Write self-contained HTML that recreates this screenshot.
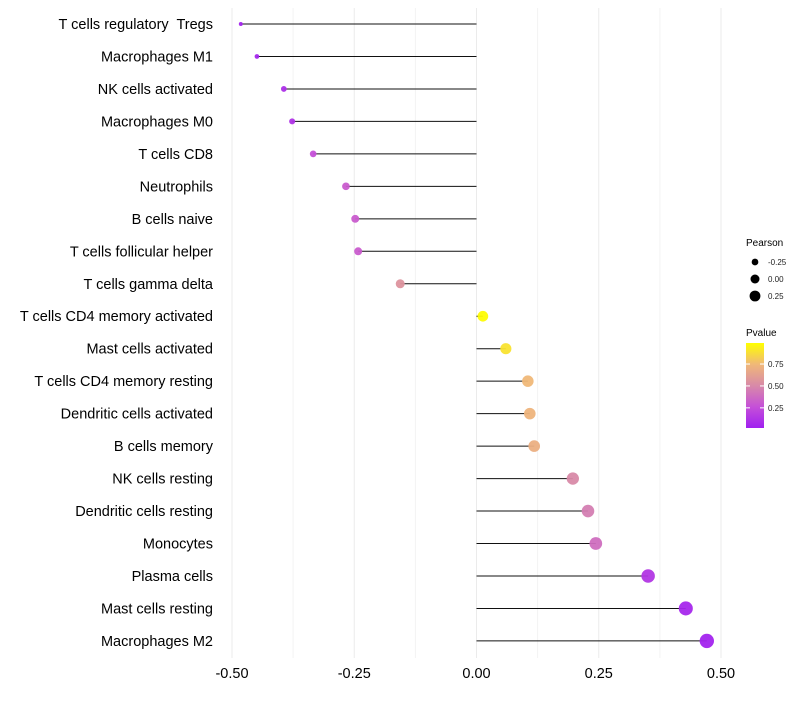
<!DOCTYPE html>
<html><head><meta charset="utf-8"><style>
body{margin:0;background:#fff;font-family:"Liberation Sans",sans-serif}
text{white-space:pre}
</style></head><body>
<svg id="chart" width="800" height="700" xmlns="http://www.w3.org/2000/svg" font-family="Liberation Sans, sans-serif"></svg>
<script>
const categories=["T cells regulatory  Tregs","Macrophages M1","NK cells activated","Macrophages M0","T cells CD8","Neutrophils","B cells naive","T cells follicular helper","T cells gamma delta","T cells CD4 memory activated","Mast cells activated","T cells CD4 memory resting","Dendritic cells activated","B cells memory","NK cells resting","Dendritic cells resting","Monocytes","Plasma cells","Mast cells resting","Macrophages M2"];
const pearson=[-0.482,-0.449,-0.394,-0.377,-0.334,-0.267,-0.248,-0.242,-0.156,0.013,0.060,0.105,0.109,0.118,0.197,0.228,0.244,0.351,0.428,0.471];
const pvalue=[0.02,0.03,0.08,0.1,0.25,0.3,0.3,0.3,0.55,0.99,0.9,0.75,0.73,0.7,0.5,0.45,0.38,0.12,0.04,0.02];
const xTicks=[-0.5,-0.25,0,0.25,0.5];
const xTickLabels=["-0.50","-0.25","0.00","0.25","0.50"];
const sizeLegend=[-0.25,0,0.25];
const sizeLegendLabels=["-0.25","0.00","0.25"];
const colorTicks=[0.25,0.5,0.75];

const svg=document.getElementById('chart');
const NS="http://www.w3.org/2000/svg";
function mk(t,a,p){const e=document.createElementNS(NS,t);for(const k in a)e.setAttribute(k,a[k]);(p||svg).appendChild(e);return e;}
const x=v=>476.5+v*489;
const y=i=>24+i*32.47;
const r=v=>Math.sqrt(Math.max(1.5,28+50*v));
const stops=[[0,[160,32,240]],[0.25,[197,80,216]],[0.5,[216,138,168]],[0.75,[240,184,120]],[1,[255,255,0]]];
function col(p){for(let i=1;i<stops.length;i++){if(p<=stops[i][0]){const a=stops[i-1],b=stops[i],t=(p-a[0])/(b[0]-a[0]);return 'rgb('+a[1].map((c,j)=>Math.round(c+(b[1][j]-c)*t)).join(',')+')';}}return 'rgb(255,255,0)';}

[-0.375,-0.125,0.125,0.375].forEach(v=>{const l=mk('line',{x1:x(v),x2:x(v),y1:8,y2:658,stroke:'#f3f3f3','stroke-width':1});});
xTicks.forEach((v,i)=>{const l=mk('line',{x1:x(v),x2:x(v),y1:8,y2:658,stroke:'#ebebeb','stroke-width':1});
const t=mk('text',{x:x(v),y:678,'text-anchor':'middle','font-size':14.5,fill:'#000'});t.textContent=xTickLabels[i];});

categories.forEach((c,i)=>{
const t=mk('text',{x:213,y:y(i)+5,'text-anchor':'end','font-size':14.5,fill:'#000'});t.textContent=c;

const s=mk('line',{x1:x(0),x2:x(pearson[i]),y1:y(i),y2:y(i),stroke:'#111','stroke-width':1});

const p=mk('circle',{cx:x(pearson[i]),cy:y(i),r:r(pearson[i]),fill:col(pvalue[i]),'fill-opacity':0.95});

});

const lt=mk('text',{x:746,y:246,'font-size':10,fill:'#000'});lt.textContent='Pearson';
sizeLegend.forEach((v,i)=>{const cy=262+i*17;
const c=mk('circle',{cx:755,cy:cy,r:r(v)*0.85,fill:'#000'});
const t=mk('text',{x:768,y:cy+3,'font-size':8,fill:'#222'});t.textContent=sizeLegendLabels[i];});
const ct=mk('text',{x:746,y:336,'font-size':10,fill:'#000'});ct.textContent='Pvalue';
const defs=mk('defs',{});const g=mk('linearGradient',{id:'pg',x1:0,y1:1,x2:0,y2:0},defs);
stops.forEach(s=>mk('stop',{offset:s[0],'stop-color':'rgb('+s[1].join(',')+')'},g));
const cb=mk('rect',{x:746,y:343,width:18,height:85,fill:'url(#pg)'});
const cy=v=>428-(v-0.02)/(0.99-0.02)*85;
colorTicks.forEach(v=>{mk('line',{x1:746,x2:750,y1:cy(v),y2:cy(v),stroke:'#fff'});mk('line',{x1:760,x2:764,y1:cy(v),y2:cy(v),stroke:'#fff'});
const t=mk('text',{x:768,y:cy(v)+3,'font-size':8,fill:'#222'});t.textContent=v.toFixed(2);});
</script>
</body></html>
